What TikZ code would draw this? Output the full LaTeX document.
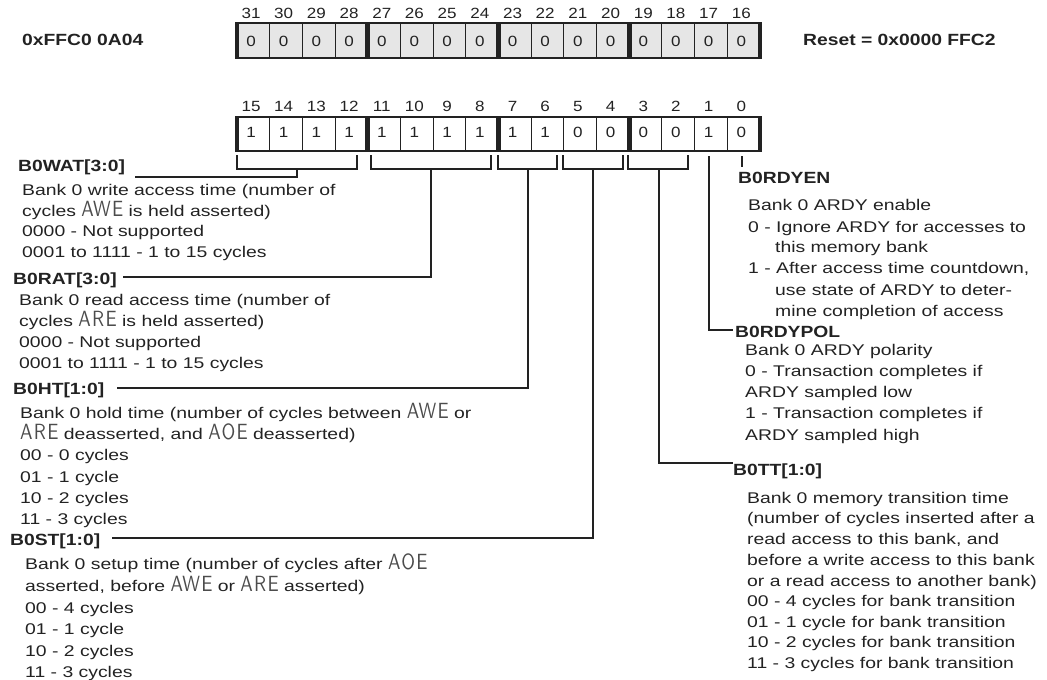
\documentclass[tikz,border=0pt]{standalone}
\usepackage{fontspec}
\setmainfont{Liberation Sans}
\newfontfamily\bodyf{Liberation Sans}[FakeStretch=1.25]
\newfontfamily\boldf{Liberation Sans}[FakeStretch=1.19]
\newfontfamily\numf{Liberation Sans}[FakeStretch=1.15]
\newfontfamily\sigf{lmsans10-regular.otf}[FakeStretch=0.85,LetterSpace=6]
\newcommand\sig[1]{{\sigf\fontsize{22}{20}\selectfont\color{black!70}#1}}
\newcommand\tl[5][txt]{\node[#1] (#2) at (#3,#4) {#5};}
\definecolor{ink}{HTML}{222222}
\definecolor{cellgray}{HTML}{E6E6E6}
\tikzset{
  txt/.style={anchor=base west, inner sep=0pt, text=ink, font=\bodyf\fontsize{15.5}{18}\selectfont},
  lab/.style={anchor=base west, inner sep=0pt, text=ink, font=\boldf\bfseries\fontsize{16.2}{19}\selectfont},
  num/.style={anchor=base, inner sep=0pt, text=ink, font=\numf\fontsize{14.8}{18}\selectfont},
  cellbox/.style={draw=ink, line width=1.1pt},
  thick bar/.style={fill=ink},
  conn/.style={draw=ink, line width=1.2pt},
}
\begin{document}
\begin{tikzpicture}[x=1pt,y=-1pt]
\useasboundingbox (0,0) rectangle (1047,680);
\pgfmathsetmacro{\cw}{523/16}
% ---------- upper register ----------
\foreach \i in {0,...,15}{
  \pgfmathsetmacro{\xl}{237+\i*\cw}
  \pgfmathtruncatemacro{\b}{31-\i}
  \draw[cellbox, fill=cellgray] (\xl,23) rectangle ({\xl+\cw},58);
  \node[num] (u\b) at ({\xl+14},46) {0};
  \node[num] (un\b) at ({\xl+14},18) {\b};
}
% ---------- lower register ----------
\foreach \i/\v in {0/1,1/1,2/1,3/1,4/1,5/1,6/1,7/1,8/1,9/1,10/0,11/0,12/0,13/0,14/1,15/0}{
  \pgfmathsetmacro{\xl}{237+\i*\cw}
  \pgfmathtruncatemacro{\b}{15-\i}
  \draw[cellbox, fill=white] (\xl,117) rectangle ({\xl+\cw},151);
  \node[num] (l\b) at ({\xl+14},137) {\v};
  \node[num] (ln\b) at ({\xl+14},111) {\b};
}
% thick separators
\foreach \k in {0,1,2,3,4}{
  \pgfmathsetmacro{\xb}{237+\k*4*\cw}
  \fill[thick bar] ({\xb-2.3},22) rectangle ({\xb+2.3},59);
  \fill[thick bar] ({\xb-2.3},116) rectangle ({\xb+2.3},152);
}
% header labels
\tl[lab]{addr}{22}{45}{0xFFC0 0A04}
\tl[lab]{reset}{803}{45}{Reset = 0x0000 FFC2}

% ---------- brackets ----------
\draw[conn] (237,155) -- (237,169) -- (357,169) -- (357,155);
\draw[conn] (371,155) -- (371,169) -- (491,169) -- (491,155);
\draw[conn] (498,155) -- (498,169) -- (557,169) -- (557,155);
\draw[conn] (563,155) -- (563,169) -- (623,169) -- (623,155);
\draw[conn] (628,155) -- (628,169) -- (688,169) -- (688,155);
\coordinate (watS) at (297,169);
\coordinate (ratS) at (431,169);
\coordinate (htS) at (528,169);
\coordinate (stS) at (593,169);
\coordinate (ttS) at (659,169);
\coordinate (polS) at (709,156);
\coordinate (enS) at (742,156);
\coordinate (watL) at (135,177);
\coordinate (ratL) at (123,277);
\coordinate (htL) at (117,388);
\coordinate (stL) at (112,538);
\coordinate (ttL) at (733,463);
\coordinate (polL) at (733,330);
\coordinate (enE) at (742,167);
\draw[conn] (watS) |- (watL);
\draw[conn] (ratS) |- (ratL);
\draw[conn] (htS) |- (htL);
\draw[conn] (stS) |- (stL);
\draw[conn] (ttS) |- (ttL);
\draw[conn] (polS) |- (polL);
\draw[conn] (enS) -- (enE);

% ---------- left descriptions ----------
\tl[lab]{wat}{18}{171}{B0WAT[3:0]}
\tl{wat1}{22}{195}{Bank 0 write access time (number of}
\tl{wat2}{22}{216}{cycles \sig{AWE} is held asserted)}
\tl{wat3}{22}{236}{0000 - Not supported}
\tl{wat4}{22}{257}{0001 to 1111 - 1 to 15 cycles}
\tl[lab]{rat}{13}{284}{B0RAT[3:0]}
\tl{rat1}{19}{305}{Bank 0 read access time (number of}
\tl{rat2}{19}{326}{cycles \sig{ARE} is held asserted)}
\tl{rat3}{19}{347}{0000 - Not supported}
\tl{rat4}{19}{368}{0001 to 1111 - 1 to 15 cycles}
\tl[lab]{ht}{13}{394}{B0HT[1:0]}
\tl{ht1}{20}{418}{Bank 0 hold time (number of cycles between \sig{AWE} or}
\tl{ht2}{20}{439}{\sig{ARE} deasserted, and \sig{AOE} deasserted)}
\tl{ht3}{20}{460}{00 - 0 cycles}
\tl{ht4}{20}{482}{01 - 1 cycle}
\tl{ht5}{20}{503}{10 - 2 cycles}
\tl{ht6}{20}{524}{11 - 3 cycles}
\tl[lab]{st}{10}{545}{B0ST[1:0]}
\tl{st1}{25}{569}{Bank 0 setup time (number of cycles after \sig{AOE}}
\tl{st2}{25}{591}{asserted, before \sig{AWE} or \sig{ARE} asserted)}
\tl{st3}{25}{613}{00 - 4 cycles}
\tl{st4}{25}{634}{01 - 1 cycle}
\tl{st5}{25}{656}{10 - 2 cycles}
\tl{st6}{25}{677}{11 - 3 cycles}

% ---------- right descriptions ----------
\tl[lab]{en}{738}{183}{B0RDYEN}
\tl{en1}{748}{210}{Bank 0 ARDY enable}
\tl{en2}{748}{232}{0 - Ignore ARDY for accesses to}
\tl{en3}{775}{252}{this memory bank}
\tl{en4}{748}{273}{1 - After access time countdown,}
\tl{en5}{775}{295}{use state of ARDY to deter-}
\tl{en6}{775}{316}{mine completion of access}
\tl[lab]{pol}{735}{337}{B0RDYPOL}
\tl{pol1}{745}{355}{Bank 0 ARDY polarity}
\tl{pol2}{745}{376}{0 - Transaction completes if}
\tl{pol3}{745}{397}{ARDY sampled low}
\tl{pol4}{745}{418}{1 - Transaction completes if}
\tl{pol5}{745}{440}{ARDY sampled high}
\tl[lab]{tt}{733}{475}{B0TT[1:0]}
\tl{tt1}{747}{503}{Bank 0 memory transition time}
\tl{tt2}{747}{523}{(number of cycles inserted after a}
\tl{tt3}{747}{544}{read access to this bank, and}
\tl{tt4}{747}{565}{before a write access to this bank}
\tl{tt5}{747}{586}{or a read access to another bank)}
\tl{tt6}{747}{606}{00 - 4 cycles for bank transition}
\tl{tt7}{747}{627}{01 - 1 cycle for bank transition}
\tl{tt8}{747}{647}{10 - 2 cycles for bank transition}
\tl{tt9}{747}{668}{11 - 3 cycles for bank transition}
\end{tikzpicture}
\end{document}
